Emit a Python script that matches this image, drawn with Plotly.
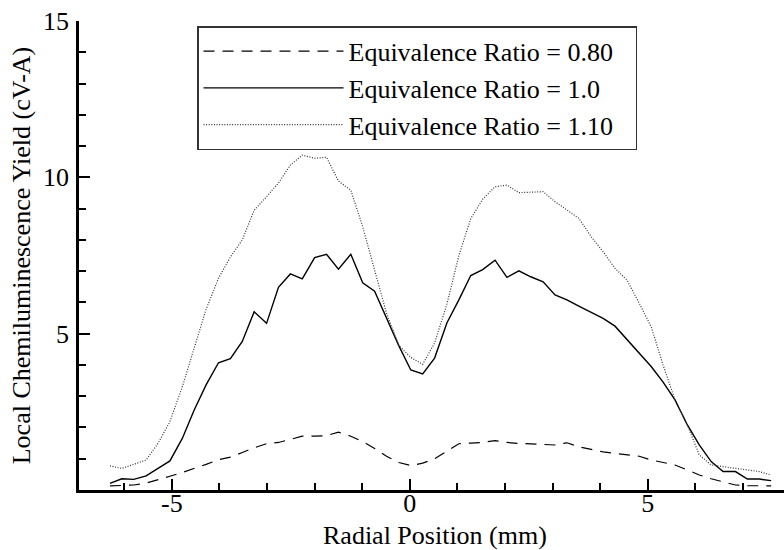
import plotly.graph_objects as go

radial_mm = [-6.30, -6.05, -5.80, -5.54, -5.29, -5.04, -4.78, -4.53, -4.28, -4.02,
             -3.77, -3.52, -3.27, -3.01, -2.76, -2.51, -2.26, -2.00, -1.75, -1.50,
             -1.24, -0.99, -0.74, -0.49, -0.23, 0.02, 0.27, 0.52, 0.78, 1.03,
             1.28, 1.53, 1.79, 2.04, 2.29, 2.54, 2.80, 3.05, 3.30, 3.55,
             3.81, 4.06, 4.31, 4.56, 4.82, 5.07, 5.32, 5.57, 5.83, 6.08,
             6.33, 6.58, 6.84, 7.09, 7.34, 7.59]

phi_080 = [0.13, 0.14, 0.16, 0.22, 0.32, 0.44, 0.56, 0.68, 0.82, 0.97,
           1.05, 1.20, 1.35, 1.48, 1.52, 1.62, 1.72, 1.72, 1.74, 1.85,
           1.72, 1.55, 1.33, 1.08, 0.88, 0.78, 0.86, 1.00, 1.25, 1.48,
           1.50, 1.52, 1.58, 1.52, 1.49, 1.48, 1.47, 1.44, 1.51, 1.38,
           1.30, 1.22, 1.17, 1.13, 1.08, 0.96, 0.88, 0.80, 0.64, 0.48,
           0.36, 0.26, 0.16, 0.14, 0.13, 0.13]

phi_100 = [0.21, 0.36, 0.34, 0.45, 0.69, 0.93, 1.65, 2.56, 3.36, 4.07,
           4.20, 4.75, 5.70, 5.33, 6.48, 6.91, 6.75, 7.43, 7.54, 7.06,
           7.54, 6.63, 6.36, 5.49, 4.61, 3.84, 3.71, 4.22, 5.35, 6.08,
           6.86, 7.05, 7.35, 6.80, 7.01, 6.82, 6.66, 6.24, 6.08, 5.88,
           5.67, 5.49, 5.24, 4.82, 4.40, 3.95, 3.45, 2.88, 2.08, 1.44,
           0.91, 0.59, 0.59, 0.35, 0.35, 0.30]

phi_110 = [0.77, 0.69, 0.82, 0.96, 1.49, 2.19, 3.30, 4.58, 5.78, 6.77,
           7.45, 8.00, 8.95, 9.38, 9.82, 10.39, 10.71, 10.61, 10.64, 9.88,
           9.59, 8.42, 7.04, 5.65, 4.62, 4.24, 4.02, 4.70, 5.95, 7.50,
           8.68, 9.30, 9.70, 9.75, 9.51, 9.52, 9.54, 9.22, 8.95, 8.69,
           8.10, 7.62, 7.09, 6.72, 5.97, 5.22, 4.00, 2.88, 2.08, 1.12,
           0.80, 0.75, 0.69, 0.64, 0.59, 0.48]

series_names = ["Equivalence Ratio = 0.80", "Equivalence Ratio = 1.0", "Equivalence Ratio = 1.10"]
x_tick_vals = [-5, 0, 5]
x_tick_text = ["-5", "0", "5"]
y_tick_vals = [5, 10, 15]
y_tick_text = ["5", "10", "15"]
x_title = "Radial Position (mm)"
y_title = "Local Chemiluminescence Yield (cV-A)"

FONT = "Liberation Serif, Times New Roman, serif"

fig = go.Figure()
fig.add_trace(go.Scatter(x=radial_mm, y=phi_080, mode="lines", name=series_names[0],
                         line=dict(color="black", width=1.2, dash="11px,8px")))
fig.add_trace(go.Scatter(x=radial_mm, y=phi_100, mode="lines", name=series_names[1],
                         line=dict(color="black", width=1.4)))
fig.add_trace(go.Scatter(x=radial_mm, y=phi_110, mode="lines", name=series_names[2],
                         line=dict(color="#333333", width=1.2, dash="1px,1.6px")))

fig.add_annotation(text=x_title, xref="paper", yref="paper", x=0.505, y=-0.096,
                   xanchor="center", yanchor="middle", showarrow=False,
                   font=dict(family=FONT, size=26, color="black"))

fig.update_layout(
    width=784, height=550,
    margin=dict(l=79, r=0, t=21, b=60),
    paper_bgcolor="white", plot_bgcolor="white",
    font=dict(family=FONT, size=26, color="black"),
    showlegend=True,
    legend=dict(
        orientation="h", entrywidth=282, entrywidthmode="pixels",
        x=0.1674, y=0.989, xanchor="left", yanchor="top",
        bgcolor="white", bordercolor="#333333", borderwidth=1.5,
        font=dict(family=FONT, size=26, color="black"),
        itemwidth=140, tracegroupgap=0,
    ),
    xaxis=dict(
        range=[-6.95, 7.86], showgrid=False, zeroline=False,
        showline=True, linecolor="black", linewidth=2.5,
        tickmode="array", tickvals=x_tick_vals, ticktext=x_tick_text,
        ticks="inside", ticklen=11, tickwidth=2, tickcolor="black",
        minor=dict(dtick=1, tick0=0, ticks="inside", ticklen=7, tickwidth=1.5, tickcolor="black"),
        tickfont=dict(family=FONT, size=26),
        ticklabelstandoff=-12,
    ),
    yaxis=dict(
        range=[0, 15], showgrid=False, zeroline=False,
        showline=True, linecolor="black", linewidth=2.5,
        tickmode="array", tickvals=y_tick_vals, ticktext=y_tick_text,
        ticks="inside", ticklen=11, tickwidth=2, tickcolor="black",
        minor=dict(dtick=1, tick0=0, ticks="inside", ticklen=7, tickwidth=1.5, tickcolor="black"),
        title=dict(text=y_title, standoff=5, font=dict(family=FONT, size=26)),
        tickfont=dict(family=FONT, size=26),
        ticklabelstandoff=2,
    ),
)

fig.write_html("out.html",
               config={"displayModeBar": False},
               post_script="document.body.style.margin='0';document.body.style.overflow='hidden';")
